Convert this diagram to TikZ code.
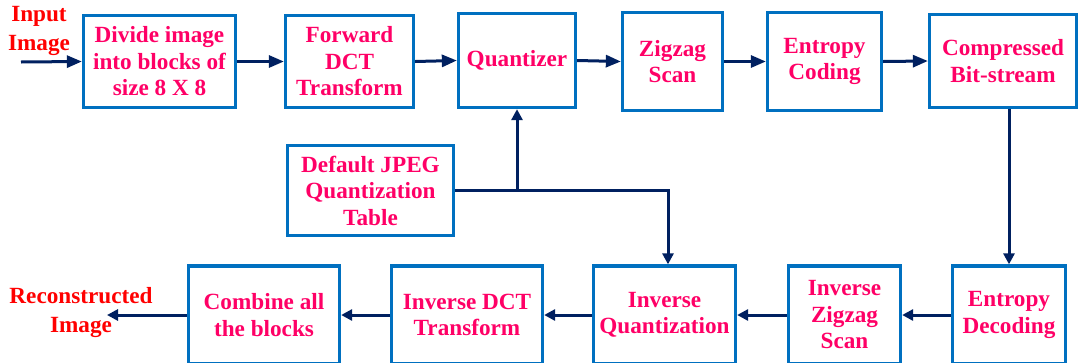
\documentclass[tikz,border=0pt]{standalone}
\usepackage{fontspec}
\setmainfont{Liberation Serif}
\usetikzlibrary{arrows.meta}
\definecolor{boxblue}{RGB}{0,112,192}
\definecolor{navy}{RGB}{0,32,96}
\definecolor{txtpink}{RGB}{255,0,102}
\definecolor{lblred}{RGB}{255,0,0}
\tikzset{
  box/.style={draw=boxblue, line width=3.3pt, text=txtpink, align=center, inner sep=0pt,
    font=\bfseries\fontsize{23.2}{26.5}\selectfont},
  lbl/.style={text=lblred, align=center, inner sep=0pt,
    font=\bfseries\fontsize{23.2}{28.5}\selectfont},
  wire/.style={draw=navy, line width=3pt},
  conn/.style={wire, -{Triangle[length=15pt,width=12pt]}},
  connb/.style={wire, -{Triangle[length=11pt,width=11pt]}}
}
\begin{document}
\begin{tikzpicture}[x=1pt,y=-1pt]
\useasboundingbox (0,0) rectangle (1079,362);
\clip (0,0) rectangle (1079,362);
% top row
\node[box, minimum width=152pt, minimum height=92pt] (divide) at (159.5,61.5) {Divide image\\into blocks of\\size 8 X 8};
\node[box, minimum width=128pt, minimum height=92pt] (fwd) at (349.5,61.5) {Forward\\DCT\\Transform};
\node[box, minimum width=117pt, minimum height=94pt] (quant) at (517,60.5) {Quantizer};
\node[box, minimum width=100pt, minimum height=98pt] (zig) at (672.5,61.5) {Zigzag\\Scan};
\node[box, minimum width=114pt, minimum height=98pt] (entc) at (824.5,61.5) {Entropy\\Coding};
\node[box, minimum width=147pt, minimum height=93pt] (comp) at (1003,61) {Compressed\\Bit-stream};
% table
\node[box, minimum width=166pt, minimum height=90pt] (table) at (370.5,190.5) {Default JPEG\\Quantization\\Table};
% bottom row
\node[box, minimum width=151pt, minimum height=98pt] (comb) at (264,315) {Combine all\\the blocks};
\node[box, minimum width=151pt, minimum height=98pt] (idct) at (467,315) {Inverse DCT\\Transform};
\node[box, minimum width=142pt, minimum height=98pt] (iq) at (664.5,315) {Inverse\\Quantization};
\node[box, minimum width=112pt, minimum height=98pt] (izig) at (844.5,315) {Inverse\\Zigzag\\Scan};
\node[box, minimum width=113pt, minimum height=98pt] (entd) at (1009,315) {Entropy\\Decoding};
% labels
\node[lbl] (inlbl) at (39,31) {Input\\Image};
\node[lbl] (outlbl) at (81,312.5) {Reconstructed\\Image};
\coordinate (inp) at (21,62);
\coordinate (outp) at (107,315);
% connectors top
\draw[conn] (inp) -- (divide.west);
\draw[conn] (divide.east) -- (fwd.west);
\draw[conn] (fwd.east) -- (quant.west);
\draw[conn] (quant.east) -- (zig.west);
\draw[conn] (zig.east) -- (entc.west);
\draw[conn] (entc.east) -- (comp.west);
% down
\draw[connb] (comp.south -| entd.north) -- (entd.north);
% bottom
\draw[connb] (entd.west) -- (izig.east);
\draw[connb] (izig.west) -- (iq.east);
\draw[connb] (iq.west) -- (idct.east);
\draw[connb] (idct.west) -- (comb.east);
\draw[connb] (comb.west) -- (outp);
% table
\coordinate (j) at (quant.south |- table.east);
\draw[wire] (table.east) -- (j);
\draw[connb] (j) -- (quant.south);
\draw[connb] (j) -| ([xshift=3.5pt]iq.north);
\end{tikzpicture}
\end{document}
